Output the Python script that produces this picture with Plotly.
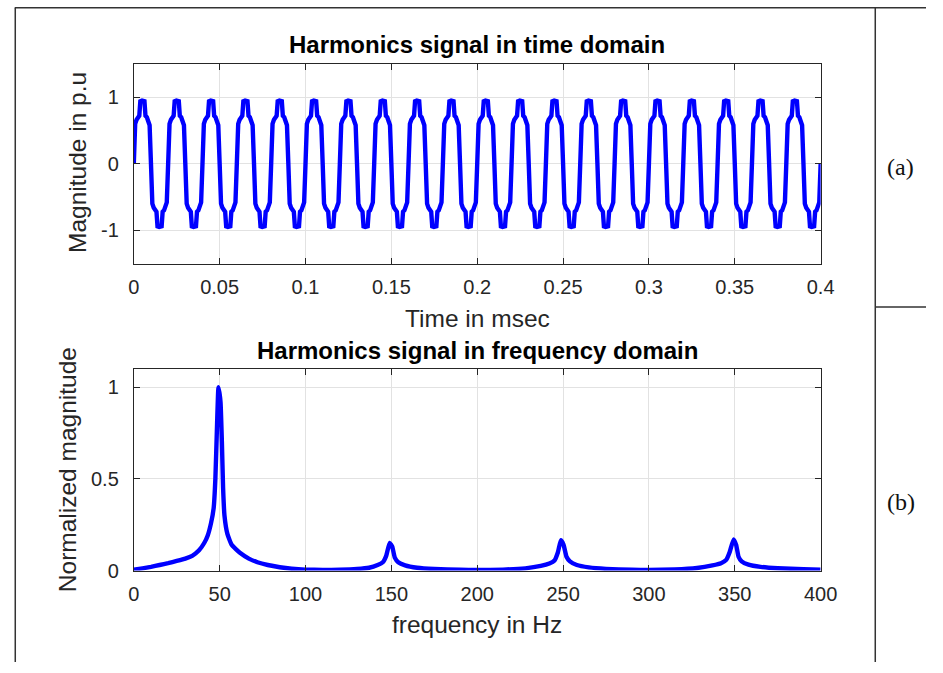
import numpy as np
import plotly.graph_objects as go

# ---------------- data ----------------
# one cycle of the time-domain waveform (fraction of period, value in p.u.)
period = 0.02
n_cycles = 20
cycle_phase = [0.00, 0.04, 0.08, 0.12, 0.16, 0.19, 0.24, 0.31, 0.34, 0.38, 0.42, 0.46,
               0.50, 0.54, 0.58, 0.62, 0.66, 0.69, 0.74, 0.81, 0.84, 0.88, 0.92, 0.96]
cycle_value = [0.00, 0.60, 0.66, 0.70, 0.72, 0.94, 0.95, 0.94, 0.72, 0.70, 0.64, 0.58,
               0.00, -0.60, -0.66, -0.70, -0.72, -0.94, -0.95, -0.94, -0.72, -0.70, -0.64, -0.58]

# spectrum (Hz, normalized magnitude)
freq = [0, 5, 10, 15, 20, 25, 30, 34, 38, 41, 43, 45, 46.5, 47.5, 48.5, 49.3, 50.5, 51.3, 52,
        52.8, 54.5, 57, 62, 67, 72, 78, 85, 92, 100, 110, 120, 130, 137, 142, 145, 147, 149,
        150.5, 152, 154, 158, 165, 175, 190, 200, 215, 228, 237, 242, 245, 247, 248.7,
        250.3, 252, 254, 258, 265, 275, 290, 300, 315, 328, 337, 342, 345, 347, 349.3,
        350.8, 352.2, 354, 358, 365, 375, 390, 400]
mag = [0.005, 0.012, 0.02, 0.03, 0.04, 0.052, 0.065, 0.08, 0.11, 0.15, 0.19, 0.26, 0.34, 0.5,
       0.8, 1.0, 0.92, 0.7, 0.45, 0.3, 0.2, 0.14, 0.095, 0.065, 0.045, 0.03, 0.018, 0.01, 0.005,
       0.003, 0.004, 0.008, 0.015, 0.03, 0.045, 0.08, 0.15, 0.13, 0.07, 0.045, 0.028, 0.015,
       0.008, 0.004, 0.003, 0.005, 0.012, 0.025, 0.038, 0.055, 0.1, 0.165, 0.14, 0.075, 0.05,
       0.03, 0.017, 0.009, 0.004, 0.003, 0.006, 0.014, 0.028, 0.04, 0.058, 0.1, 0.17, 0.14,
       0.075, 0.05, 0.032, 0.02, 0.012, 0.007, 0.005]

top_xticks = [0, 0.05, 0.1, 0.15, 0.2, 0.25, 0.3, 0.35, 0.4]
top_xticklabels = ["0", "0.05", "0.1", "0.15", "0.2", "0.25", "0.3", "0.35", "0.4"]
top_yticks = [-1, 0, 1]
top_yticklabels = ["-1", "0", "1"]
bot_xticks = [0, 50, 100, 150, 200, 250, 300, 350, 400]
bot_yticks = [0, 0.5, 1]
bot_yticklabels = ["0", "0.5", "1"]

# build time series from the read cycle
t_all, v_all = [], []
for k in range(n_cycles):
    for p, v in zip(cycle_phase, cycle_value):
        t_all.append((k + p) * period)
        v_all.append(v)
t_all.append(n_cycles * period)
v_all.append(0.0)

# ---------------- figure ----------------
W, H = 943, 673
def px(x):
    return x / W
def py(y):
    return 1 - y / H

AX_L, AX_R = 131, 835
TOP_T, TOP_B = 65, 268
BOT_T, BOT_B = 375, 580

fig = go.Figure()
fig.add_trace(go.Scatter(x=t_all, y=v_all, mode="lines", xaxis="x", yaxis="y",
                         line=dict(color="#0000FF", width=4.4), showlegend=False))
fig.add_trace(go.Scatter(x=freq, y=mag, mode="lines", xaxis="x2", yaxis="y2",
                         line=dict(color="#0000FF", width=4.4, shape="spline", smoothing=0.4),
                         showlegend=False))

axfont = dict(family="Liberation Sans, Arial, sans-serif", size=20, color="#262626")
common = dict(showline=True, linecolor="#262626", linewidth=1, mirror="ticks",
              ticks="inside", ticklen=6, tickcolor="#262626", tickwidth=1,
              showgrid=True, gridcolor="#e2e2e2", gridwidth=1, zeroline=False,
              tickfont=axfont)

fig.update_layout(
    width=W, height=H,
    margin=dict(l=0, r=0, t=0, b=0),
    paper_bgcolor="white", plot_bgcolor="white",
    xaxis=dict(domain=[px(AX_L), px(AX_R)], range=[0, 0.4], tickvals=top_xticks,
               ticktext=top_xticklabels, anchor="y", ticklabelstandoff=5, **common),
    yaxis=dict(domain=[py(TOP_B), py(TOP_T)], range=[-1.5, 1.5], tickvals=top_yticks,
               ticktext=top_yticklabels, anchor="x", ticklabelstandoff=10, **common),
    xaxis2=dict(domain=[px(AX_L), px(AX_R)], range=[0, 400], tickvals=bot_xticks,
                anchor="y2", ticklabelstandoff=5, **common),
    yaxis2=dict(domain=[py(BOT_B), py(BOT_T)], range=[0, 1.1], tickvals=bot_yticks,
                ticktext=bot_yticklabels, anchor="x2", ticklabelstandoff=10, **common),
)

cx = (AX_L + AX_R) / 2
lab = dict(family="Liberation Sans, Arial, sans-serif", size=24.5, color="#262626")
ttl = dict(family="Liberation Sans, Arial, sans-serif", size=24, color="#000000")
ann = [
    dict(text="<b>Harmonics signal in time domain</b>", x=px(cx), y=py(45), font=ttl),
    dict(text="<b>Harmonics signal in frequency domain</b>", x=px(cx), y=py(356), font=ttl),
    dict(text="Time in msec", x=px(cx), y=py(324), font=lab),
    dict(text="frequency in Hz", x=px(cx), y=py(635), font=lab),
    dict(text="Magnitude in p.u", x=px(74), y=py((TOP_T + TOP_B) / 2 - 1), font=lab, textangle=-90),
    dict(text="Normalized magnitude", x=px(63), y=py((BOT_T + BOT_B) / 2), font=lab, textangle=-90),
    dict(text="(a)", x=px(917), y=py(170),
         font=dict(family="Liberation Serif, Times New Roman, serif", size=24, color="#111")),
    dict(text="(b)", x=px(917), y=py(510),
         font=dict(family="Liberation Serif, Times New Roman, serif", size=24, color="#111")),
]
for a in ann:
    a.update(xref="paper", yref="paper", showarrow=False, xanchor="center", yanchor="middle")
fig.update_layout(annotations=ann)

lc = dict(color="#333333", width=1.5)
shapes = [
    dict(type="line", x0=px(9), x1=1, y0=py(8), y1=py(8), line=lc),
    dict(type="line", x0=px(9.5), x1=px(9.5), y0=py(8), y1=0, line=lc),
    dict(type="line", x0=px(891), x1=px(891), y0=py(8), y1=0, line=lc),
    dict(type="line", x0=px(891), x1=1, y0=py(312), y1=py(312), line=lc),
]
for s in shapes:
    s.update(xref="paper", yref="paper")
fig.update_layout(shapes=shapes)

fig.write_html("out.html", config={"displayModeBar": False},
               post_script="document.body.style.margin='0';document.body.style.overflow='hidden';")
